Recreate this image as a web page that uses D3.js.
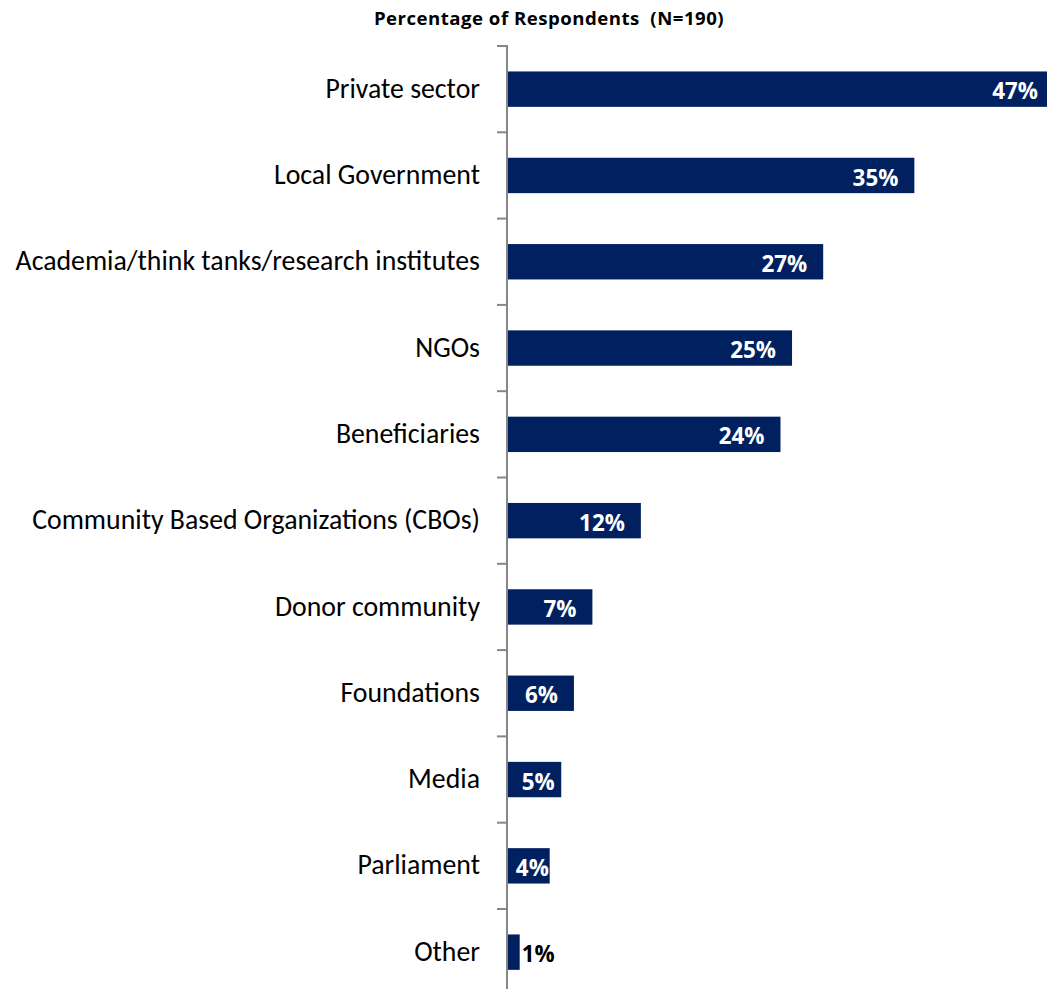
<!DOCTYPE html>
<html>
<head>
<meta charset="utf-8">
<script src="https://cdn.jsdelivr.net/npm/d3@7"></script>
<style>
  html, body { margin: 0; padding: 0; background: #fff; }
  svg { display: block; }
</style>
</head>
<body>
<svg id="chart" width="1047" height="989"></svg>
<script>
const categories = [
  "Private sector",
  "Local Government",
  "Academia/think tanks/research institutes",
  "NGOs",
  "Beneficiaries",
  "Community Based Organizations (CBOs)",
  "Donor community",
  "Foundations",
  "Media",
  "Parliament",
  "Other"
];
const values = [47.4, 35.3, 27.4, 24.7, 23.7, 11.6, 7.4, 5.8, 4.7, 3.7, 1.1];
const valueLabels = ["47%", "35%", "27%", "25%", "24%", "12%", "7%", "6%", "5%", "4%", "1%"];
const title = "Percentage of Respondents  (N=190)";

const data = categories.map((c, i) => ({ cat: c, v: values[i], label: valueLabels[i] }));

const svg = d3.select("#chart");
const CAT_FONT = "Carlito, Calibri, Lato, 'Noto Sans', sans-serif";
const BOLD_FONT = "'Open Sans', 'Noto Sans', sans-serif";
const axisX = 507;

const x = d3.scaleLinear().domain([0, 50]).range([axisX, axisX + 577]);
const y = d3.scaleBand().domain(categories).range([46, 46 + 11 * 86.3])
  .paddingInner(0.59).paddingOuter(0.295);

const step = y.step();

// title
svg.append("text")
  .attr("x", 549).attr("y", 25)
  .attr("text-anchor", "middle")
  .attr("font-family", BOLD_FONT).attr("font-weight", "bold")
  .attr("font-size", 18.6).attr("letter-spacing", 0.5)
  .style("white-space", "pre")
  .attr("fill", "#000")
  .text(title);

// bars
svg.append("g").selectAll("rect").data(data).join("rect")
  .attr("x", x(0))
  .attr("y", d => y(d.cat))
  .attr("width", d => x(d.v) - x(0))
  .attr("height", y.bandwidth())
  .attr("fill", "#002060");

// axis line and ticks
const ax = svg.append("g").attr("stroke", "#868686").attr("stroke-width", 2);
ax.append("line").attr("x1", axisX).attr("x2", axisX).attr("y1", 45).attr("y2", 989);
const tickYs = categories.map(c => y(c) - step * 0.59 / 2);
tickYs.push(y(categories[categories.length - 1]) + y.bandwidth() + step * 0.59 / 2);
ax.selectAll("line.tick").data(tickYs).join("line")
  .attr("class", "tick")
  .attr("x1", axisX - 10).attr("x2", axisX)
  .attr("y1", d => d).attr("y2", d => d);

// category labels
svg.append("g").selectAll("text").data(data).join("text")
  .attr("x", axisX - 27)
  .attr("y", d => y(d.cat) + y.bandwidth() / 2)
  .attr("dy", "0.31em")
  .attr("text-anchor", "end")
  .attr("font-family", CAT_FONT)
  .attr("font-size", 27.8)
  .attr("fill", "#000")
  .text(d => d.cat);

// value labels
const vl = svg.append("g").selectAll("text").data(data).join("text")
  .attr("y", d => y(d.cat) + y.bandwidth() / 2)
  .attr("dy", "0.45em")
  .attr("font-family", BOLD_FONT)
  .attr("font-weight", "bold")
  .attr("font-size", 22.4)
  .text(d => d.label);

vl.each(function(d) {
  const t = d3.select(this);
  const w = this.getComputedTextLength();
  const barW = x(d.v) - x(0);
  if (barW < w + 6) {
    t.attr("x", x(d.v) + 2).attr("text-anchor", "start").attr("fill", "#000");
  } else if (barW < w + 32) {
    t.attr("x", x(0) + barW / 2 + 4).attr("text-anchor", "middle").attr("fill", "#fff");
  } else {
    t.attr("x", x(d.v) - 16).attr("text-anchor", "end").attr("fill", "#fff");
  }
});
</script>
</body>
</html>
